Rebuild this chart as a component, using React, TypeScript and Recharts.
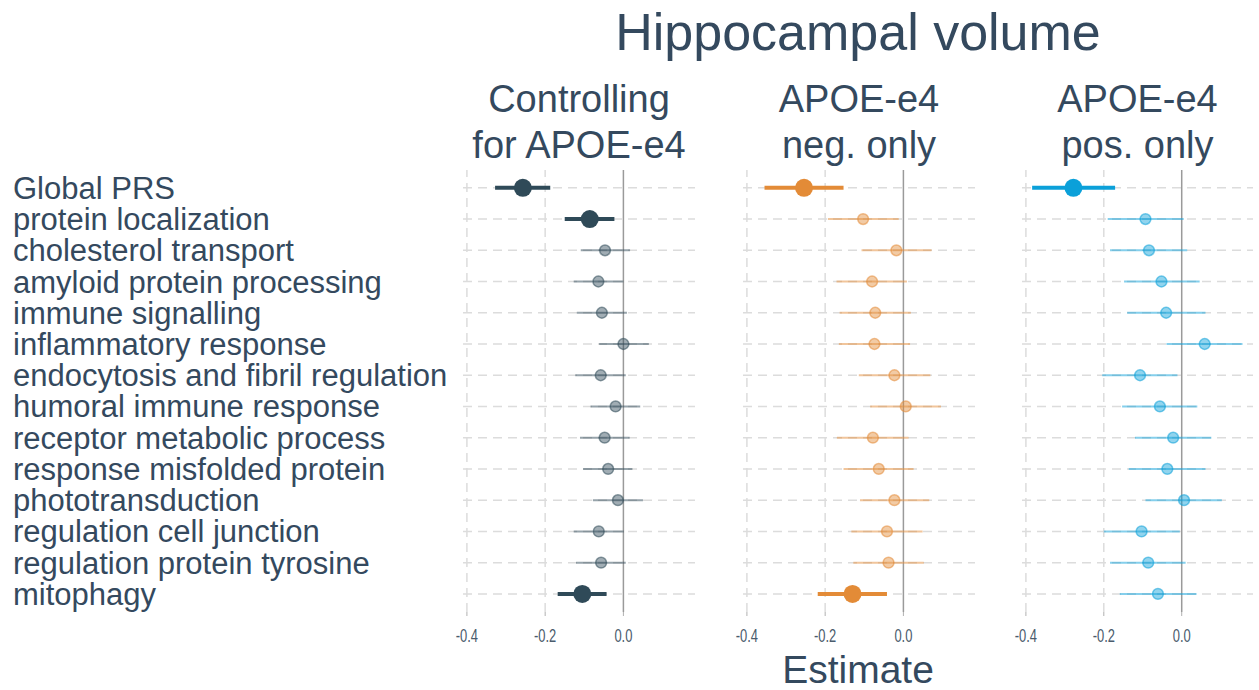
import React from 'react';
import { ComposedChart, Scatter, XAxis, YAxis, ReferenceLine } from 'recharts';

const categories = [
  'Global PRS',
  'protein localization',
  'cholesterol transport',
  'amyloid protein processing',
  'immune signalling',
  'inflammatory response',
  'endocytosis and fibril regulation',
  'humoral immune response',
  'receptor metabolic process',
  'response misfolded protein',
  'phototransduction',
  'regulation cell junction',
  'regulation protein tyrosine',
  'mitophagy',
];
const rowIndex = [1, 2, 3, 4, 5, 6, 7, 8, 9, 10, 11, 12, 13, 14];
const xTicks = [-0.4, -0.2, 0.0];
const xDashedGrid = [-0.4, -0.2];

const panelTitles = [
  ['Controlling', 'for APOE-e4'],
  ['APOE-e4', 'neg. only'],
  ['APOE-e4', 'pos. only'],
];

const ctrlEst = [-0.257, -0.086, -0.047, -0.064, -0.055, 0.0, -0.058, -0.02, -0.048, -0.039, -0.014, -0.063, -0.057, -0.105];
const ctrlLo = [-0.328, -0.15, -0.109, -0.127, -0.119, -0.062, -0.123, -0.084, -0.111, -0.103, -0.078, -0.127, -0.121, -0.168];
const ctrlHi = [-0.187, -0.023, 0.017, 0.0, 0.009, 0.065, 0.006, 0.043, 0.016, 0.023, 0.05, 0.001, 0.006, -0.043];
const ctrlSig = [1, 1, 0, 0, 0, 0, 0, 0, 0, 0, 0, 0, 0, 1];

const negEst = [-0.254, -0.103, -0.018, -0.08, -0.072, -0.074, -0.023, 0.006, -0.078, -0.063, -0.023, -0.042, -0.038, -0.13];
const negLo = [-0.355, -0.193, -0.107, -0.171, -0.163, -0.165, -0.114, -0.085, -0.17, -0.153, -0.111, -0.133, -0.128, -0.219];
const negHi = [-0.153, -0.012, 0.072, 0.009, 0.019, 0.017, 0.069, 0.096, 0.013, 0.026, 0.066, 0.049, 0.052, -0.042];
const negSig = [1, 0, 0, 0, 0, 0, 0, 0, 0, 0, 0, 0, 0, 1];

const posEst = [-0.278, -0.093, -0.084, -0.052, -0.04, 0.059, -0.107, -0.056, -0.022, -0.037, 0.006, -0.103, -0.086, -0.061];
const posLo = [-0.384, -0.19, -0.184, -0.148, -0.14, -0.039, -0.204, -0.153, -0.12, -0.136, -0.093, -0.2, -0.184, -0.159];
const posHi = [-0.171, 0.005, 0.014, 0.046, 0.061, 0.156, -0.011, 0.04, 0.076, 0.061, 0.103, -0.005, 0.01, 0.038];
const posSig = [1, 0, 0, 0, 0, 0, 0, 0, 0, 0, 0, 0, 0, 0];

const TEXT = '#34495E';
const FONT = '"Liberation Sans", Arial, sans-serif';
const W = 1259;
const H = 690;
const PLOT_TOP = 170;
const PLOT_BOTTOM = 612;
const X_AXIS_H = 40;
const PAD = 24;
const X_DOMAIN: [number, number] = [-0.41, 0.183];
const Y_DOMAIN: [number, number] = [0.43, 14.58];

const panels = [
  { plotLeft: 463, plotWidth: 232, yAxisWidth: 463, color: '#2F4A58', est: ctrlEst, lo: ctrlLo, hi: ctrlHi, sig: ctrlSig },
  { plotLeft: 743, plotWidth: 232, yAxisWidth: 0, color: '#E38B37', est: negEst, lo: negLo, hi: negHi, sig: negSig },
  { plotLeft: 1022, plotWidth: 231, yAxisWidth: 0, color: '#0BA0D9', est: posEst, lo: posLo, hi: posHi, sig: posSig },
];

const YTick = (props: any) => {
  const { y, payload } = props;
  const label = categories[Math.round(payload.value) - 1];
  return (
    <text x={13} y={y} dy={11} textAnchor="start" fill={TEXT} fontSize={31} fontFamily={FONT}>
      {label}
    </text>
  );
};

const XTick = (props: any) => {
  const { x, y, payload } = props;
  return (
    <g transform={`translate(${x},${y + 24}) scale(0.74,1)`}>
      <text x={0} y={0} textAnchor="middle" fill="#4A5B6C" fontSize={17.5} fontFamily={FONT}>
        {Number(payload.value).toFixed(1)}
      </text>
    </g>
  );
};

const makeDot = (color: string) => (props: any) => {
  const { cx, cy, payload } = props;
  if (payload.sig) {
    return <circle cx={cx} cy={cy} r={9} fill={color} />;
  }
  return (
    <circle cx={cx} cy={cy} r={5.4} fill={color} fillOpacity={0.45} stroke={color} strokeOpacity={0.55} strokeWidth={1.5} />
  );
};

function Panel({ p }: { p: (typeof panels)[number] }) {
  const data = rowIndex.map((r, i) => ({ row: r, est: p.est[i], sig: p.sig[i] }));
  const leftPad = p.yAxisWidth > 0 ? 0 : PAD;
  const chartLeft = p.plotLeft - p.yAxisWidth - leftPad;
  return (
    <div style={{ position: 'absolute', left: chartLeft, top: 0 }}>
      <ComposedChart
        width={p.yAxisWidth + leftPad + p.plotWidth + 4}
        height={H}
        data={data}
        margin={{ top: PLOT_TOP, right: 4, bottom: H - PLOT_BOTTOM - X_AXIS_H, left: leftPad }}
      >
        <XAxis
          type="number"
          dataKey="est"
          domain={X_DOMAIN}
          allowDataOverflow
          ticks={xTicks}
          axisLine={false}
          tickLine={{ stroke: '#B0B0B0' }}
          tickSize={4}
          height={X_AXIS_H}
          tick={<XTick />}
          interval={0}
        />
        <YAxis
          type="number"
          dataKey="row"
          domain={Y_DOMAIN}
          allowDataOverflow
          reversed
          ticks={rowIndex}
          interval={0}
          hide={p.yAxisWidth === 0}
          width={p.yAxisWidth}
          axisLine={false}
          tickLine={false}
          tick={<YTick />}
        />
        {rowIndex.map((r) => (
          <ReferenceLine key={'h' + r} y={r} stroke="#DCDCDC" strokeWidth={1.5} strokeDasharray="9 6" />
        ))}
        {xDashedGrid.map((v) => (
          <ReferenceLine key={'v' + v} x={v} stroke="#DCDCDC" strokeWidth={1.5} strokeDasharray="9 6" />
        ))}
        <ReferenceLine x={0} stroke="#9A9A9A" strokeWidth={1.5} />
        {rowIndex.map((r, i) => (
          <ReferenceLine
            key={'ci' + r}
            segment={[
              { x: p.lo[i], y: r },
              { x: p.hi[i], y: r },
            ]}
            stroke={p.color}
            strokeWidth={p.sig[i] ? 4 : 2}
            strokeOpacity={p.sig[i] ? 1 : 0.5}
          />
        ))}
        <Scatter dataKey="est" isAnimationActive={false} shape={makeDot(p.color)} />
      </ComposedChart>
    </div>
  );
}

export default function App() {
  const centers = panels.map((p) => p.plotLeft + p.plotWidth / 2);
  return (
    <div style={{ position: 'absolute', left: 0, top: 0, width: W, height: H, background: '#fff', overflow: 'hidden' }}>
      {panels.map((p, i) => (
        <Panel key={i} p={p} />
      ))}
      <svg width={W} height={H} style={{ position: 'absolute', left: 0, top: 0, pointerEvents: 'none' }}>
        <text x={858} y={50} textAnchor="middle" fill={TEXT} fontSize={52} fontFamily={FONT}>
          Hippocampal volume
        </text>
        {panelTitles.map((lines, i) => (
          <g key={i}>
            <text x={centers[i]} y={112} textAnchor="middle" fill={TEXT} fontSize={38} fontFamily={FONT}>
              {lines[0]}
            </text>
            <text x={centers[i]} y={158} textAnchor="middle" fill={TEXT} fontSize={38} fontFamily={FONT}>
              {lines[1]}
            </text>
          </g>
        ))}
        <text x={858} y={683} textAnchor="middle" fill={TEXT} fontSize={39} fontFamily={FONT}>
          Estimate
        </text>
      </svg>
    </div>
  );
}
